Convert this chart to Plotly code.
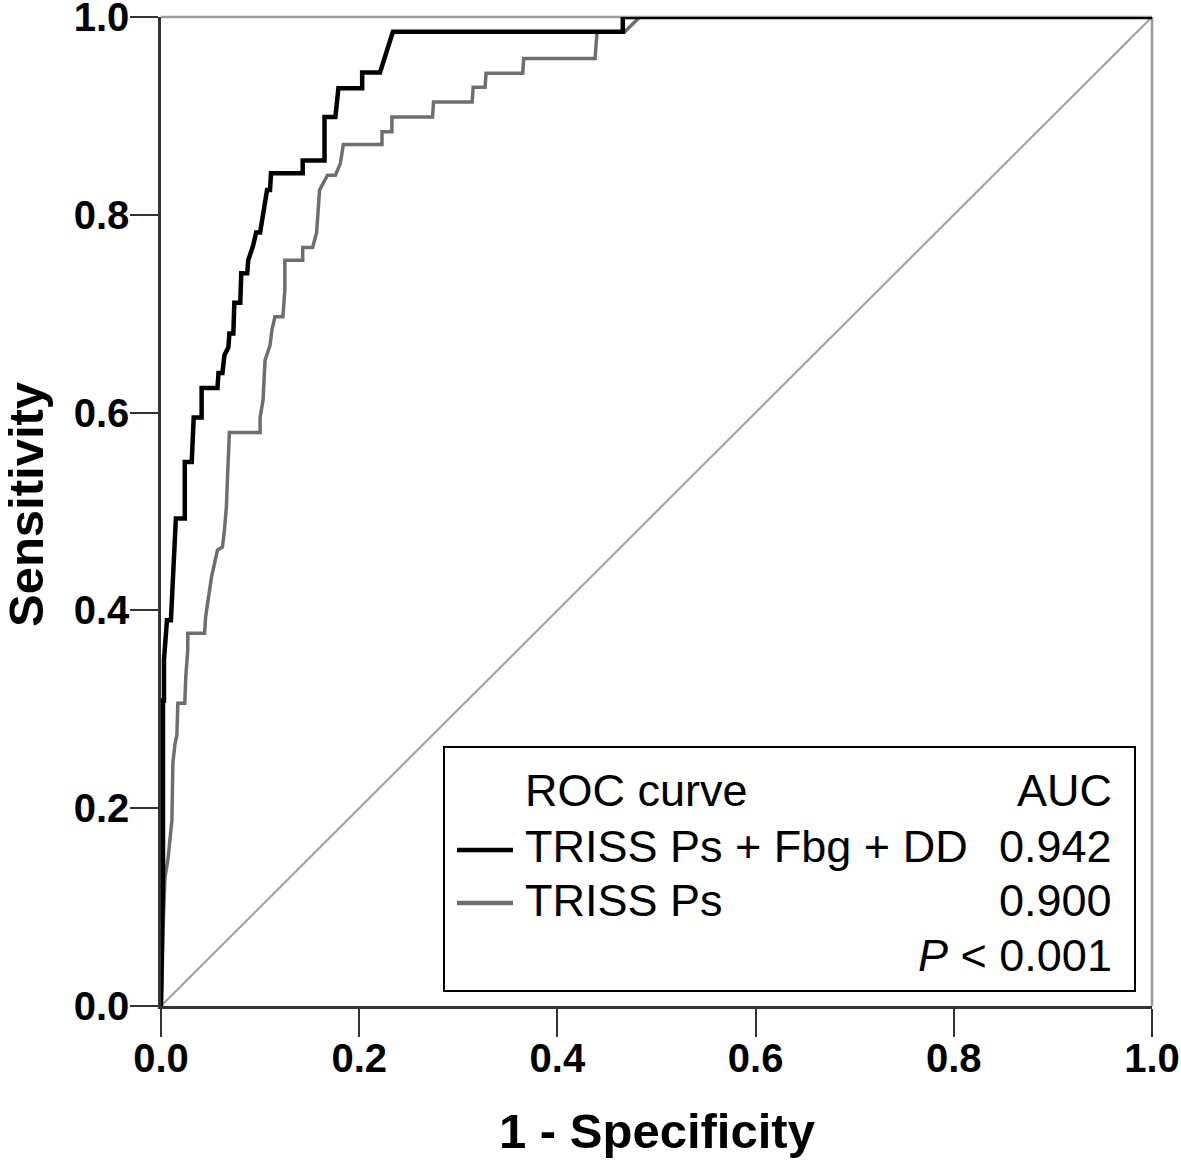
import plotly.graph_objects as go

# ---------------- data ----------------
combined_fpr = [0.000, 0.001, 0.002, 0.002, 0.003, 0.003, 0.006, 0.010, 0.012, 0.014,
                0.015, 0.024, 0.024, 0.031, 0.032, 0.033, 0.041, 0.041, 0.057, 0.058,
                0.062, 0.064, 0.068, 0.069, 0.073, 0.074, 0.080, 0.081, 0.087, 0.088,
                0.093, 0.096, 0.100, 0.105, 0.107, 0.110, 0.111, 0.143, 0.143, 0.165,
                0.165, 0.176, 0.179, 0.203, 0.203, 0.221, 0.228, 0.234, 0.466, 0.466,
                1.000]
combined_tpr = [0.000, 0.127, 0.127, 0.309, 0.309, 0.350, 0.390, 0.390, 0.441, 0.471,
                0.493, 0.493, 0.550, 0.550, 0.572, 0.595, 0.595, 0.625, 0.625, 0.640,
                0.640, 0.658, 0.666, 0.680, 0.680, 0.711, 0.711, 0.741, 0.741, 0.754,
                0.769, 0.782, 0.782, 0.815, 0.825, 0.825, 0.842, 0.842, 0.855, 0.855,
                0.899, 0.899, 0.928, 0.928, 0.944, 0.944, 0.967, 0.985, 0.985, 1.000,
                1.000]

triss_fpr = [0.000, 0.001, 0.002, 0.003, 0.004, 0.007, 0.009, 0.011, 0.012, 0.014,
             0.016, 0.017, 0.024, 0.025, 0.027, 0.027, 0.044, 0.045, 0.047, 0.051,
             0.057, 0.062, 0.064, 0.066, 0.067, 0.069, 0.100, 0.100, 0.103, 0.105,
             0.110, 0.112, 0.115, 0.123, 0.125, 0.125, 0.143, 0.143, 0.153, 0.157,
             0.160, 0.168, 0.176, 0.181, 0.184, 0.223, 0.223, 0.233, 0.233, 0.274,
             0.275, 0.314, 0.315, 0.327, 0.328, 0.365, 0.366, 0.438, 0.440, 0.468,
             0.483, 1.000]
triss_tpr = [0.000, 0.026, 0.077, 0.107, 0.130, 0.148, 0.173, 0.188, 0.246, 0.264,
             0.274, 0.306, 0.306, 0.333, 0.360, 0.377, 0.377, 0.393, 0.407, 0.434,
             0.461, 0.464, 0.481, 0.505, 0.532, 0.580, 0.580, 0.595, 0.613, 0.653,
             0.668, 0.684, 0.697, 0.697, 0.724, 0.754, 0.754, 0.767, 0.767, 0.782,
             0.825, 0.840, 0.840, 0.852, 0.871, 0.871, 0.884, 0.884, 0.899, 0.899,
             0.914, 0.914, 0.929, 0.929, 0.943, 0.943, 0.958, 0.958, 0.985, 0.985,
             1.000, 1.000]

reference_x = [0.0, 1.0]
reference_y = [0.0, 1.0]

tick_vals = [0.0, 0.2, 0.4, 0.6, 0.8, 1.0]
tick_text = ["0.0", "0.2", "0.4", "0.6", "0.8", "1.0"]

legend_header = ["ROC curve", "AUC"]
series_names = ["TRISS Ps + Fbg + DD", "TRISS Ps"]
series_auc = ["0.942", "0.900"]
p_text = "<i>P</i> &lt; 0.001"

# ---------------- figure ----------------
FONT = "Liberation Sans, Arial, Helvetica, sans-serif"
W, H = 1181, 1163
L, R, T, B = 161, 29, 17, 157
pw, ph = W - L - R, H - T - B


def px_x(p):
    return (p - L) / pw


def px_y(p):
    return (T + ph - p) / ph


fig = go.Figure()

fig.add_trace(go.Scatter(x=reference_x, y=reference_y, mode="lines",
                         line=dict(color="#a3a3a3", width=2.2), showlegend=False,
                         hoverinfo="skip"))
fig.add_trace(go.Scatter(x=triss_fpr, y=triss_tpr, mode="lines",
                         line=dict(color="#6e6e6e", width=3.5), name=series_names[1],
                         showlegend=False))
fig.add_trace(go.Scatter(x=combined_fpr, y=combined_tpr, mode="lines",
                         line=dict(color="#000000", width=4.5), name=series_names[0],
                         showlegend=False))

axis_common = dict(
    range=[0, 1], showgrid=False, zeroline=False,
    showline=True, linecolor="#333333", linewidth=2.5,
    ticks="outside", ticklen=28, tickwidth=2, tickcolor="#333333",
    tickvals=tick_vals, ticktext=tick_text,
    tickfont=dict(family=FONT, size=40, color="#000000", weight="bold"),
    ticklabeloverflow="allow",
    layer="below traces",
)

fig.update_layout(
    width=W, height=H,
    margin=dict(l=L, r=R, t=T, b=B, autoexpand=False),
    paper_bgcolor="white", plot_bgcolor="white",
    xaxis=dict(**axis_common, ticklabelstandoff=-13),
    yaxis=dict(**axis_common, ticklabelstandoff=-7),
    showlegend=False,
)

# top and right borders (gray)
fig.add_shape(type="line", xref="paper", yref="paper", x0=0, x1=1, y0=1, y1=1,
              line=dict(color="#9a9a9a", width=2.5), layer="below")
fig.add_shape(type="line", xref="paper", yref="paper", x0=1, x1=1, y0=0, y1=1,
              line=dict(color="#9a9a9a", width=2.5), layer="below")

# axis titles
fig.add_annotation(text="Sensitivity", xref="paper", yref="paper",
                   x=px_x(26), y=px_y(505), xanchor="center", yanchor="middle",
                   textangle=-90, showarrow=False,
                   font=dict(family=FONT, size=49, color="#000000", weight="bold"))
fig.add_annotation(text="1 - Specificity", xref="paper", yref="paper",
                   x=px_x(657), y=px_y(1131), xanchor="center", yanchor="middle",
                   showarrow=False,
                   font=dict(family=FONT, size=49, color="#000000", weight="bold"))

# legend box
fig.add_shape(type="rect", xref="paper", yref="paper",
              x0=px_x(444), x1=px_x(1135), y0=px_y(991), y1=px_y(747),
              line=dict(color="#000000", width=2), fillcolor="white", layer="above")

legend_font = dict(family=FONT, size=45, color="#000000")
row_y = [790, 846, 900, 955]
left_x = px_x(523)
right_x = px_x(1114)

fig.add_annotation(text=legend_header[0], xref="paper", yref="paper", x=left_x,
                   y=px_y(row_y[0]), xanchor="left", yanchor="middle",
                   showarrow=False, font=legend_font)
fig.add_annotation(text=legend_header[1], xref="paper", yref="paper", x=right_x,
                   y=px_y(row_y[0]), xanchor="right", yanchor="middle",
                   showarrow=False, font=legend_font)
sample_colors = ["#000000", "#6e6e6e"]
sample_y = [850, 903]
for i in range(2):
    fig.add_shape(type="line", xref="paper", yref="paper",
                  x0=px_x(457), x1=px_x(513), y0=px_y(sample_y[i]), y1=px_y(sample_y[i]),
                  line=dict(color=sample_colors[i], width=4.5), layer="above")
    fig.add_annotation(text=series_names[i], xref="paper", yref="paper", x=left_x,
                       y=px_y(row_y[i + 1]), xanchor="left", yanchor="middle",
                       showarrow=False, font=legend_font)
    fig.add_annotation(text=series_auc[i], xref="paper", yref="paper", x=right_x,
                       y=px_y(row_y[i + 1]), xanchor="right", yanchor="middle",
                       showarrow=False, font=legend_font)
fig.add_annotation(text=p_text, xref="paper", yref="paper", x=right_x,
                   y=px_y(row_y[3]), xanchor="right", yanchor="middle",
                   showarrow=False, font=legend_font)

fig.write_html("out.html",
               config={"displayModeBar": False},
               post_script="document.body.style.margin='0px';document.body.style.overflow='hidden';")
